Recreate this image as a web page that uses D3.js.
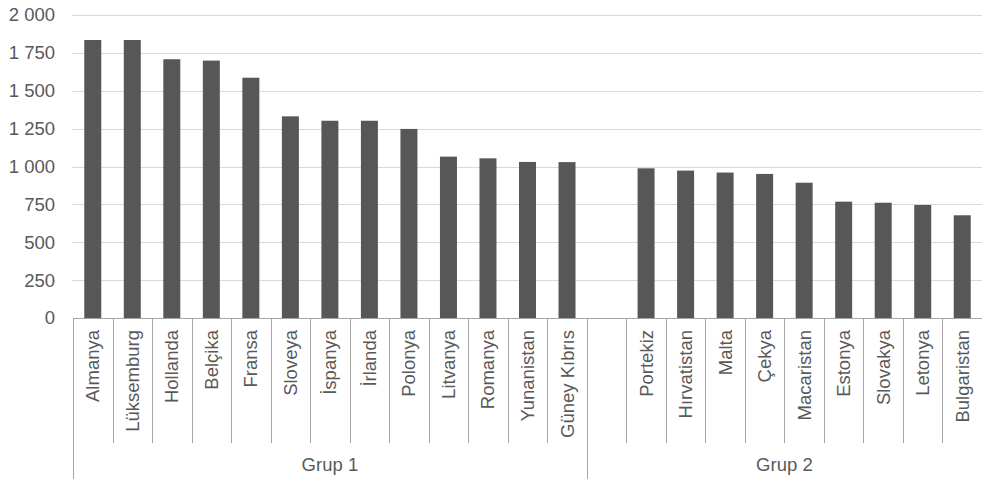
<!DOCTYPE html>
<html>
<head>
<meta charset="utf-8">
<script src="https://cdn.jsdelivr.net/npm/d3@7"></script>
<style>
  html, body { margin: 0; padding: 0; background: #fff; }
  svg { display: block; }
  text { font-family: "Liberation Sans", Arial, sans-serif; fill: #595959; }
</style>
</head>
<body>
<svg id="chart" width="982" height="479"></svg>
<script>
// Country values, grouped
const group1Countries = ["Almanya", "Lüksemburg", "Hollanda", "Belçika", "Fransa", "Sloveya", "İspanya", "İrlanda", "Polonya", "Litvanya", "Romanya", "Yunanistan", "Güney Kıbrıs"];
const group1Values = [1835, 1835, 1708, 1699, 1586, 1331, 1302, 1302, 1248, 1065, 1054, 1030, 1029];
const group2Countries = ["Portekiz", "Hırvatistan", "Malta", "Çekya", "Macaristan", "Estonya", "Slovakya", "Letonya", "Bulgaristan"];
const group2Values = [988, 973, 960, 951, 893, 768, 761, 746, 678];
const groupLabels = ["Grup 1", "Grup 2"];
const yTicks = [0, 250, 500, 750, 1000, 1250, 1500, 1750, 2000];

const BLANK = "__gap__";
const rows = [];
group1Countries.forEach((c, i) => rows.push({ key: c, name: c, value: group1Values[i], group: 0 }));
rows.push({ key: BLANK, name: "", value: null, group: 1 });
group2Countries.forEach((c, i) => rows.push({ key: c, name: c, value: group2Values[i], group: 1 }));

const svg = d3.select("#chart");
const plotLeft = 73, plotRight = 982, plotTop = 15, plotBase = 318;
const fontSize = "18.5px";

const y = d3.scaleLinear().domain([0, 2000]).range([plotBase, plotTop]);
const slot = d3.scaleBand().domain(rows.map(d => d.key)).range([plotLeft, plotRight]);
const bar = d3.scaleBand().domain(rows.map(d => d.key)).range([plotLeft, plotRight])
  .paddingInner(0.57).paddingOuter(0.285);

// Horizontal gridlines
svg.append("g").selectAll("line").data(yTicks.filter(t => t > 0)).join("line")
  .attr("x1", plotLeft - 1).attr("x2", plotRight)
  .attr("y1", d => Math.round(y(d)) + 0.5).attr("y2", d => Math.round(y(d)) + 0.5)
  .attr("stroke", "#d9d9d9").attr("stroke-width", 1);

// Value axis labels
svg.append("g").selectAll("text").data(yTicks).join("text")
  .attr("x", 55).attr("y", d => y(d))
  .attr("dy", "0.35em").attr("text-anchor", "end")
  .style("font-size", fontSize)
  .text(d => d3.format(",")(d).replace(/,/g, " "));

// Bars
svg.append("g").selectAll("rect").data(rows.filter(d => d.value != null)).join("rect")
  .attr("x", d => bar(d.key)).attr("width", bar.bandwidth())
  .attr("y", d => y(d.value)).attr("height", d => y(0) - y(d.value))
  .attr("fill", "#575757");

// Category axis
const axis = svg.append("g");
axis.append("line")
  .attr("x1", plotLeft).attr("x2", plotRight)
  .attr("y1", plotBase + 0.5).attr("y2", plotBase + 0.5)
  .attr("stroke", "#a6a6a6");

// Category separators
const boundaries = rows.map(d => slot(d.key));
axis.selectAll("line.tick").data(boundaries).join("line")
  .attr("class", "tick")
  .attr("x1", d => Math.round(d) + 0.5).attr("x2", d => Math.round(d) + 0.5)
  .attr("y1", plotBase).attr("y2", 443)
  .attr("stroke", "#a6a6a6");

// Group separators
const groupStarts = [slot(rows.find(d => d.group === 0).key), slot(rows.find(d => d.group === 1).key)];
axis.selectAll("line.grp").data(groupStarts).join("line")
  .attr("class", "grp")
  .attr("x1", d => Math.round(d) + 0.5).attr("x2", d => Math.round(d) + 0.5)
  .attr("y1", plotBase).attr("y2", 479)
  .attr("stroke", "#a6a6a6");

// Category labels (rotated)
axis.selectAll("text.cat").data(rows.filter(d => d.name)).join("text")
  .attr("class", "cat")
  .attr("transform", d => `translate(${slot(d.key) + slot.bandwidth() / 2},330) rotate(-90)`)
  .attr("text-anchor", "end").attr("dy", "0.35em")
  .style("font-size", fontSize)
  .text(d => d.name);

// Group labels
const groupEnds = [groupStarts[1], plotRight];
axis.selectAll("text.grp").data(groupLabels).join("text")
  .attr("class", "grp")
  .attr("x", (d, i) => (groupStarts[i] + groupEnds[i]) / 2)
  .attr("y", 465).attr("dy", "0.35em").attr("text-anchor", "middle")
  .style("font-size", fontSize)
  .text(d => d);
</script>
</body>
</html>
